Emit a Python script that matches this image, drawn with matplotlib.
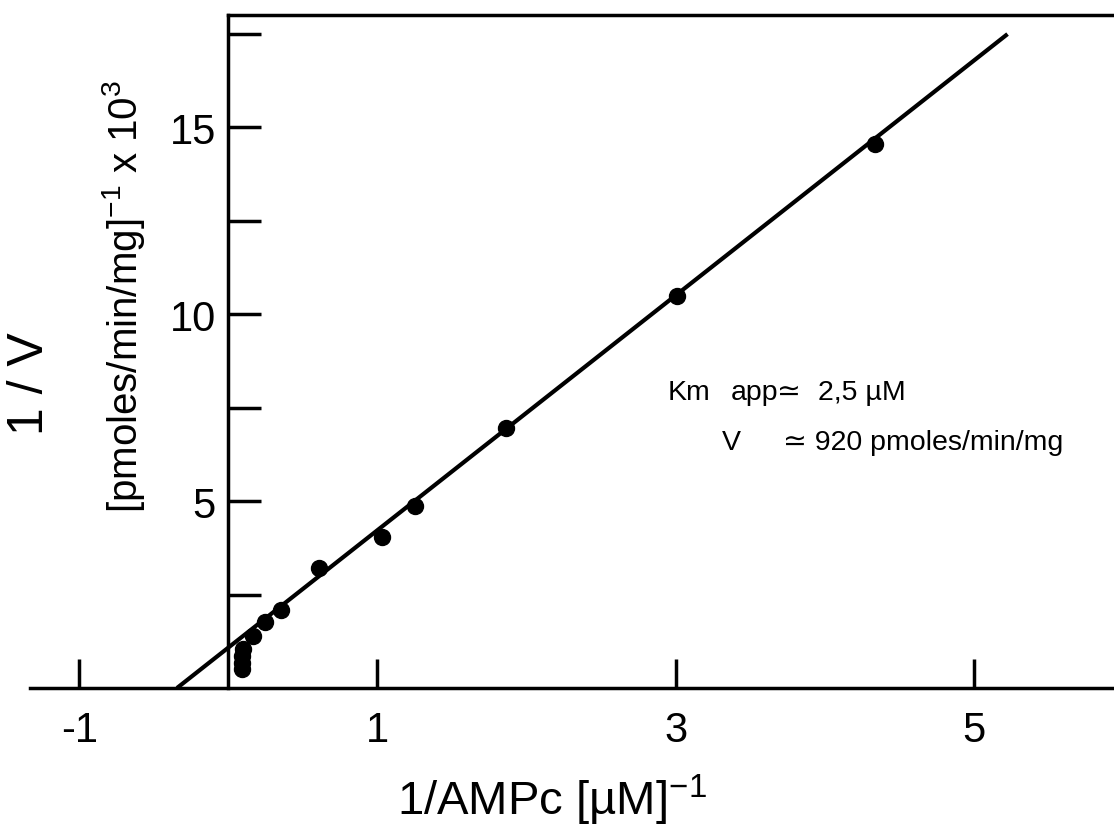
import matplotlib
matplotlib.use("Agg")
import matplotlib.pyplot as plt
from matplotlib import font_manager
from matplotlib.ticker import FixedLocator, NullFormatter

# ---- data ----
inv_ampc = [4.335, 3.01, 1.86, 1.253, 1.03, 0.605, 0.355, 0.248, 0.165,
            0.10, 0.09, 0.09, 0.09]
inv_v = [14.55, 10.48, 6.95, 4.86, 4.05, 3.21, 2.09, 1.76, 1.40,
         1.05, 0.86, 0.68, 0.52]
fit_x = [-0.344, 5.226]
fit_y = [0.0, 17.49]

x_ticks = [-1, 1, 3, 5]
x_ticklabels = ["-1", "1", "3", "5"]
y_major = [5, 10, 15]
y_ticklabels = ["5", "10", "15"]
y_minor = [2.5, 7.5, 12.5, 17.5]

names = {f.name for f in font_manager.fontManager.ttflist}
FONT = "Liberation Sans" if "Liberation Sans" in names else "DejaVu Sans"
FAM = [FONT, "DejaVu Sans"]
plt.rcParams["font.family"] = FAM
plt.rcParams["mathtext.fontset"] = "custom"
plt.rcParams["mathtext.rm"] = FONT
plt.rcParams["mathtext.it"] = FONT
plt.rcParams["mathtext.bf"] = FONT

W, H = 1114, 829
fig = plt.figure(figsize=(W / 100, H / 100), dpi=100)
ax = fig.add_axes([30 / W, (H - 689) / H, 1084 / W, 673 / H])
xmin, xmax = -1.33, 5.94
ax.set_xlim(xmin, xmax)
ax.set_ylim(0, 18.0)

lw = 2.5
ax.spines["right"].set_visible(False)
ax.spines["left"].set_position(("data", 0))
ax.spines["left"].set_bounds(0, 18.0)
ax.spines["top"].set_bounds(0, xmax)
for s in ("left", "top", "bottom"):
    ax.spines[s].set_linewidth(lw)
    ax.spines[s].set_color("black")

ax.plot(fit_x, fit_y, color="black", lw=3.0, solid_capstyle="butt", zorder=3)
ax.plot(inv_ampc, inv_v, "o", color="black", markersize=11.5, clip_on=False, zorder=4)

ax.xaxis.set_major_locator(FixedLocator(x_ticks))
ax.set_xticklabels(x_ticklabels)
ax.yaxis.set_major_locator(FixedLocator(y_major))
ax.set_yticklabels(y_ticklabels)
ax.yaxis.set_minor_locator(FixedLocator(y_minor))
ax.yaxis.set_minor_formatter(NullFormatter())
ax.xaxis.set_ticks_position("bottom")
ax.yaxis.set_ticks_position("left")
ax.tick_params(axis="x", which="both", direction="in", length=21, width=lw,
               pad=16, labelsize=30)
ax.tick_params(axis="y", which="both", direction="in", length=24, width=lw,
               pad=9, labelsize=30)

# axis titles
fig.text(397 / W, (H - 815) / H, "1/AMPc [µM]$^{-1}$", fontsize=34,
         ha="left", va="baseline")
fig.text(30 / W, 1 - 384 / H, "1 / V", fontsize=36, rotation=90,
         ha="center", va="center")
fig.text(137 / W, 1 - 513 / H, "[pmoles/min/mg]$^{-1}$ x 10$^{3}$", fontsize=29,
         rotation=90, rotation_mode="anchor", ha="left", va="baseline")

# annotation
def px(xp, yp):
    return ((xp - 228) / 149.25, (689 - yp) / 37.4)

for xp, s in [(668, "Km"), (731, "app"), (777, "≃"), (818, "2,5 µM")]:
    ax.text(*px(xp, 400), s, fontsize=20.5, ha="left", va="baseline")
for xp, s in [(722, "V"), (783, "≃ 920 pmoles/min/mg")]:
    ax.text(*px(xp, 450), s, fontsize=20.5, ha="left", va="baseline")

fig.savefig("out.png", dpi=100)
